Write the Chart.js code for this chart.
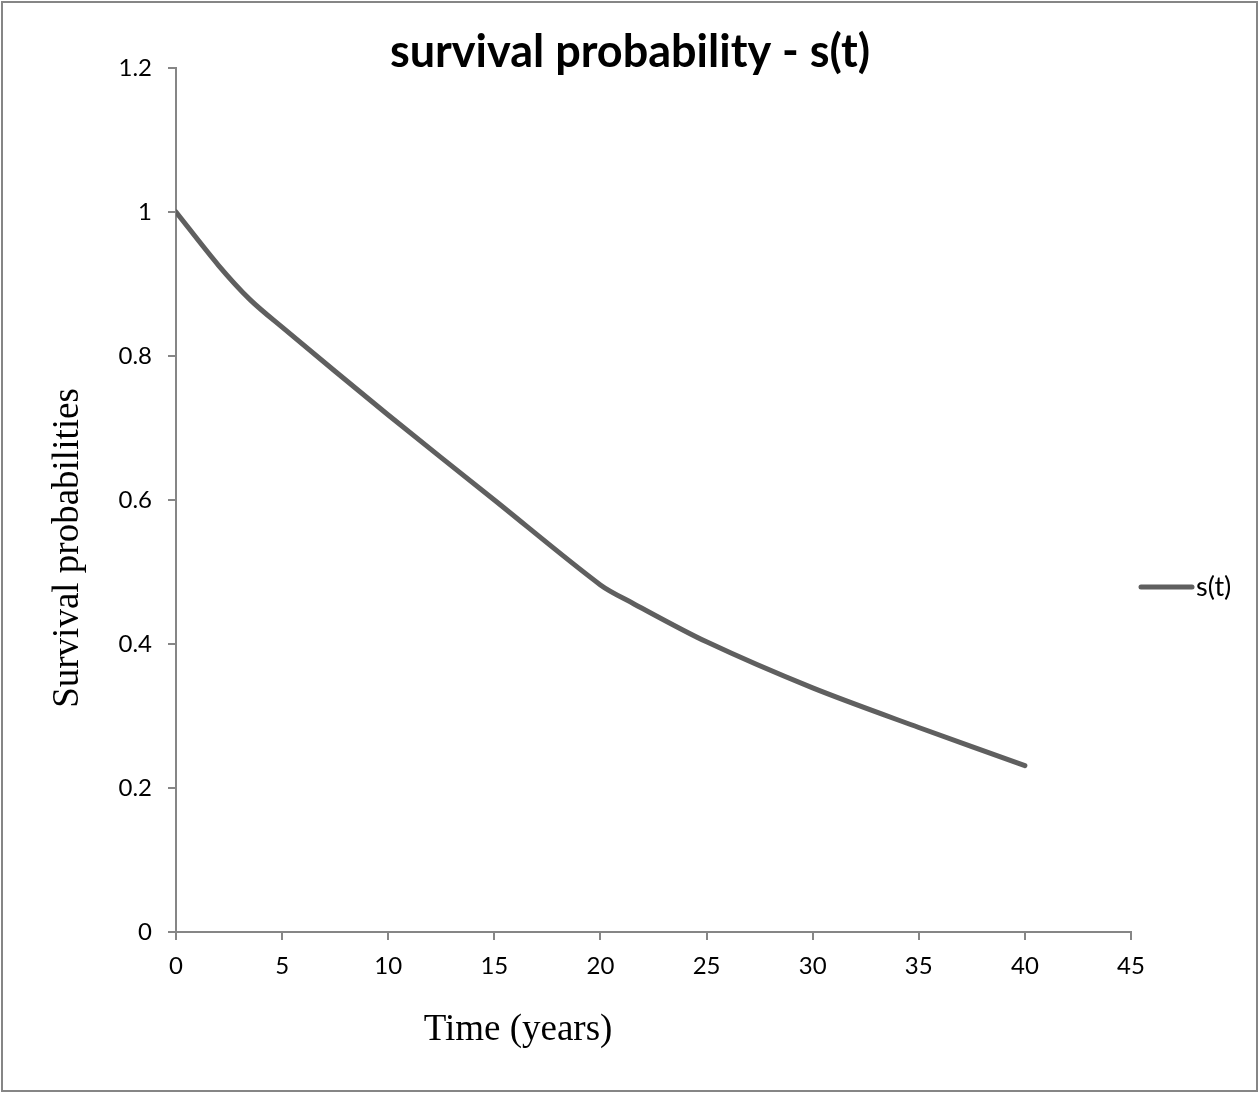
<!DOCTYPE html>
<html>
<head>
<meta charset="utf-8">
<script src="https://cdn.jsdelivr.net/npm/chart.js@4/dist/chart.umd.min.js"></script>
<style>
  html, body { margin: 0; padding: 0; background: #fff; }
  #wrap { width: 1260px; height: 1093px; }
</style>
</head>
<body>
<div id="wrap"><canvas id="survChart" width="1260" height="1093"></canvas></div>
<script>
// survival curve
const years = [0, 2, 3.5, 5, 10, 15, 20, 21.5, 25, 30, 35, 40];
const survival = [1.0, 0.926, 0.878, 0.840, 0.718, 0.600, 0.482, 0.457, 0.403, 0.339, 0.284, 0.231];

const seriesName = "s(t)";
const chartTitle = "survival probability - s(t)";
const xTitle = "Time (years)";
const yTitle = "Survival probabilities";

const lineColor = "#5f5f5f";
const axisColor = "#868686";

const points = years.map((t, i) => ({ x: t, y: survival[i] }));

// title, axis titles, legend and outer frame drawn by hand so they sit where Excel put them
const decorations = {
  id: 'decorations',
  afterDraw(chart) {
    const { ctx, chartArea } = chart;
    ctx.save();

    ctx.strokeStyle = axisColor;
    ctx.lineWidth = 2;
    ctx.strokeRect(2, 2, 1255, 1089);

    ctx.fillStyle = "#000";
    ctx.textAlign = "center";
    ctx.textBaseline = "middle";
    ctx.font = "bold 45px Lato";
    ctx.fillText(chartTitle, 630, 52);

    ctx.font = "37px 'Liberation Serif'";
    ctx.fillText(xTitle, 518, 1030);

    ctx.translate(68, 548);
    ctx.rotate(-Math.PI / 2);
    ctx.fillText(yTitle, 0, 0);
    ctx.setTransform(1, 0, 0, 1, 0, 0);

    // legend
    const ly = 587;
    ctx.strokeStyle = lineColor;
    ctx.lineWidth = 5;
    ctx.lineCap = "round";
    ctx.beginPath();
    ctx.moveTo(chartArea.right + 10, ly);
    ctx.lineTo(chartArea.right + 61, ly);
    ctx.stroke();
    ctx.textAlign = "left";
    ctx.font = "27px Lato";
    ctx.fillText(seriesName, chartArea.right + 65, ly);

    ctx.restore();
  }
};

new Chart(document.getElementById("survChart").getContext("2d"), {
  type: 'scatter',
  plugins: [decorations],
  data: {
    datasets: [{
      label: seriesName,
      data: points,
      showLine: true,
      borderColor: lineColor,
      backgroundColor: lineColor,
      borderWidth: 5,
      borderCapStyle: 'round',
      tension: 0.3,
      pointRadius: 0,
      pointHoverRadius: 0
    }]
  },
  options: {
    responsive: false,
    animation: false,
    layout: { padding: { top: 68, right: 129, left: 0, bottom: 0 } },
    plugins: {
      legend: { display: false },
      title: { display: false },
      tooltip: { enabled: false }
    },
    scales: {
      x: {
        type: 'linear',
        min: 0,
        max: 45,
        afterFit(s) { s.height = 1093 - 932; },
        ticks: {
          stepSize: 5,
          padding: 12,
          color: "#000",
          font: { family: "Lato", size: 24 }
        },
        grid: { drawOnChartArea: false, drawTicks: true, tickLength: 8, color: axisColor, lineWidth: 2 },
        border: { color: axisColor, width: 2 }
      },
      y: {
        min: 0,
        max: 1.2,
        afterFit(s) { s.width = 176; },
        ticks: {
          stepSize: 0.2,
          padding: 16,
          color: "#000",
          font: { family: "Lato", size: 24 },
          callback: v => String(+v.toFixed(1))
        },
        grid: { drawOnChartArea: false, drawTicks: true, tickLength: 8, color: axisColor, lineWidth: 2 },
        border: { color: axisColor, width: 2 }
      }
    }
  }
});
</script>
</body>
</html>
